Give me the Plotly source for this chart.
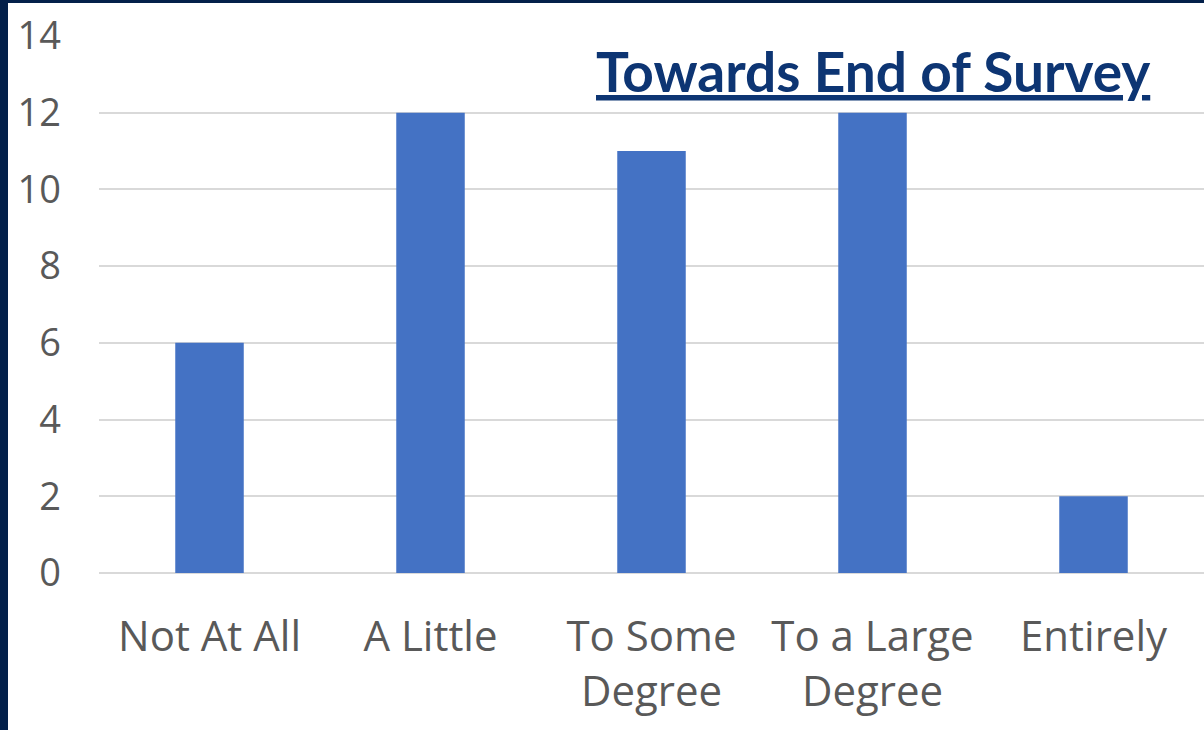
import plotly.graph_objects as go

# Survey responses collected towards the end of the survey
categories = ["Not At All", "A Little", "To Some<br>Degree", "To a Large<br>Degree", "Entirely"]
counts = [6, 12, 11, 12, 2]
y_ticks = [0, 2, 4, 6, 8, 10, 12, 14]

W, H = 1204, 730
L, R, T, B = 99, 0, 36, 157
pw, ph = W - L - R, H - T - B

fig = go.Figure(
    go.Bar(x=categories, y=counts, marker=dict(color="#4472C4", line=dict(width=0)), width=0.31)
)

# navy frame strips along the left and top edges
frame = "#03204A"
fig.add_shape(type="rect", xref="paper", yref="paper",
              x0=-L / pw, x1=(8 - L) / pw, y0=-B / ph, y1=(H - T) / ph + 0.01,
              fillcolor=frame, line=dict(width=0), layer="above")
fig.add_shape(type="rect", xref="paper", yref="paper",
              x0=-L / pw, x1=1.01, y0=(T - 3) / ph + 1, y1=(T + 2) / ph + 1,
              fillcolor=frame, line=dict(width=0), layer="above")

fig.add_annotation(
    text="<u><b>Towards End of Survey</b></u>",
    xref="paper", yref="paper",
    x=(873 - L) / pw, y=1 - (71 - T) / ph,
    xanchor="center", yanchor="middle", showarrow=False,
    font=dict(family="Lato", size=55, color="#0D3573"),
)

fig.update_layout(
    width=W, height=H,
    margin=dict(l=L, r=R, t=T, b=B, pad=0),
    paper_bgcolor="white", plot_bgcolor="white",
    showlegend=False,
    font=dict(family="Open Sans", color="#595959"),
    xaxis=dict(
        showgrid=False, showline=False, ticks="",
        tickfont=dict(size=42, color="#595959"),
        ticklabelstandoff=35,
    ),
    yaxis=dict(
        range=[0, 14], tickvals=y_ticks,
        showgrid=True, gridcolor="#D9D9D9", gridwidth=2,
        zeroline=True, zerolinecolor="#D9D9D9", zerolinewidth=2,
        showline=False, ticks="",
        tickfont=dict(size=38, color="#595959"),
        ticklabelstandoff=37,
    ),
)

fig.write_html("out.html")
